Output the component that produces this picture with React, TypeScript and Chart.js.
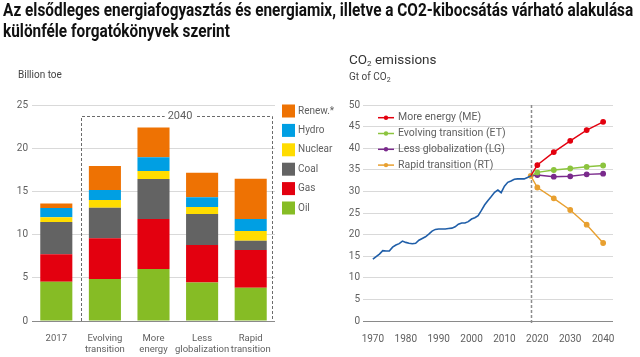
import React, { useEffect, useRef, useLayoutEffect, useState } from 'react';
import { Chart, registerables } from 'chart.js';
Chart.register(...registerables);

const FONT = 'Roboto, "Liberation Sans", sans-serif';

// ---- Left chart: primary energy mix (billion toe)
const mixCategories = [['2017'], ['Evolving', 'transition'], ['More', 'energy'], ['Less', 'globalization'], ['Rapid', 'transition']];
const oil = [4.55, 4.86, 6.02, 4.47, 3.86];
const gas = [3.17, 4.71, 5.78, 4.33, 4.36];
const coal = [3.74, 3.53, 4.63, 3.58, 1.08];
const nuclear = [0.54, 0.9, 0.93, 0.8, 1.12];
const hydro = [1.08, 1.16, 1.58, 1.15, 1.38];
const renew = [0.52, 2.78, 3.46, 2.82, 4.67];
const mixTickStep = 5;
const mixMax = 25;
const boxTopValue = 23.7;
const boxLabel = '2040';

// ---- Right chart: CO2 emissions (Gt of CO2)
const histYears = [1970, 1971, 1972, 1973, 1974, 1975, 1976, 1977, 1978, 1979, 1980, 1981, 1982, 1983, 1984, 1985, 1986, 1987, 1988, 1989, 1990, 1991, 1992, 1993, 1994, 1995, 1996, 1997, 1998, 1999, 2000, 2001, 2002, 2003, 2004, 2005, 2006, 2007, 2008, 2009, 2010, 2011, 2012, 2013, 2014, 2015, 2016, 2017, 2018];
const histCO2 = [14.3, 14.9, 15.5, 16.3, 16.2, 16.2, 17.1, 17.6, 17.9, 18.5, 18.2, 18.0, 17.9, 18.0, 18.7, 19.1, 19.5, 20.1, 20.8, 21.2, 21.3, 21.3, 21.3, 21.4, 21.5, 21.8, 22.4, 22.7, 22.7, 23.0, 23.6, 23.9, 24.4, 25.6, 26.9, 27.9, 28.8, 29.8, 30.3, 29.7, 31.2, 32.1, 32.4, 32.8, 32.9, 32.9, 32.9, 33.2, 33.6];
const projYears = [2018, 2020, 2025, 2030, 2035, 2040];
const moreEnergy = [33.6, 36.1, 39.1, 41.7, 44.2, 46.1];
const evolving = [33.6, 34.4, 34.95, 35.3, 35.7, 36.0];
const lessGlob = [33.6, 33.8, 33.4, 33.5, 33.95, 34.1];
const rapid = [33.6, 30.9, 28.4, 25.7, 22.3, 18.05];
const co2XTicks = [1970, 1980, 1990, 2000, 2010, 2020, 2030, 2040];
const co2Divider = 2018;

const tickColor = '#5f5f5f';
const gridColor = (ctx: any) => (ctx.tick && ctx.tick.value === 0 ? '#8a8a8a' : '#d9d9d9');

const mixBoxPlugin = {
  id: 'mixBox',
  afterDraw(chart: any) {
    const { ctx, scales } = chart;
    const x = scales.x, y = scales.y;
    const step = x.getPixelForValue(1) - x.getPixelForValue(0);
    const left = Math.round(x.getPixelForValue(0) + step / 2) + 0.5;
    const right = Math.round(x.getPixelForValue(4) + step * 0.43) + 0.5;
    const top = Math.round(y.getPixelForValue(boxTopValue)) + 0.5;
    const bottom = y.getPixelForValue(0);
    ctx.save();
    ctx.strokeStyle = '#6b6b6b';
    ctx.lineWidth = 1;
    ctx.setLineDash([3, 2]);
    ctx.beginPath();
    ctx.moveTo(left, bottom);
    ctx.lineTo(left, top);
    ctx.lineTo(right, top);
    ctx.lineTo(right, bottom);
    ctx.stroke();
    ctx.setLineDash([]);
    ctx.font = `11px ${FONT}`;
    const w = ctx.measureText(boxLabel).width;
    const cx = (left + right) / 2 + 3;
    ctx.fillStyle = '#fff';
    ctx.fillRect(cx - w / 2 - 3, top - 6, w + 6, 12);
    ctx.fillStyle = tickColor;
    ctx.textAlign = 'center';
    ctx.textBaseline = 'middle';
    ctx.fillText(boxLabel, cx, top);
    ctx.restore();
  },
};

const mixLegendPlugin = {
  id: 'mixLegend',
  afterDraw(chart: any) {
    const { ctx, chartArea } = chart;
    const ds = [...chart.data.datasets].reverse();
    ctx.save();
    ctx.font = `10px ${FONT}`;
    ctx.textBaseline = 'middle';
    ctx.textAlign = 'left';
    ds.forEach((d: any, i: number) => {
      const cy = chartArea.top + 6 + i * 19.4;
      const sx = chartArea.right + 7;
      ctx.fillStyle = d.backgroundColor;
      ctx.fillRect(sx, cy - 6.5, 13, 13);
      ctx.fillStyle = tickColor;
      ctx.fillText(d.label, sx + 16, cy);
    });
    ctx.restore();
  },
};

const dividerPlugin = {
  id: 'divider',
  beforeDatasetsDraw(chart: any) {
    const { ctx, scales } = chart;
    const x = Math.round(scales.x.getPixelForValue(co2Divider)) + 0.5;
    ctx.save();
    ctx.strokeStyle = '#8c8c8c';
    ctx.lineWidth = 1.5;
    ctx.setLineDash([3, 2]);
    ctx.beginPath();
    ctx.moveTo(x, scales.y.getPixelForValue(50));
    ctx.lineTo(x, scales.y.getPixelForValue(0) + 2);
    ctx.stroke();
    ctx.restore();
  },
};

const co2LegendPlugin = {
  id: 'co2Legend',
  afterDraw(chart: any) {
    const { ctx, chartArea } = chart;
    const ds = chart.data.datasets.filter((d: any) => d.showInLegend);
    ctx.save();
    ctx.font = `10.5px ${FONT}`;
    ctx.textBaseline = 'middle';
    ctx.textAlign = 'left';
    ds.forEach((d: any, i: number) => {
      const cy = chartArea.top + 12.7 + i * 15.8;
      const x0 = chartArea.left + 15;
      ctx.strokeStyle = d.borderColor;
      ctx.lineWidth = 1.5;
      ctx.beginPath();
      ctx.moveTo(x0, cy);
      ctx.lineTo(x0 + 16, cy);
      ctx.stroke();
      ctx.fillStyle = d.borderColor;
      ctx.beginPath();
      ctx.arc(x0 + 8, cy, 2.2, 0, Math.PI * 2);
      ctx.fill();
      ctx.fillStyle = tickColor;
      ctx.fillText(d.label, x0 + 20, cy);
    });
    ctx.restore();
  },
};

function MixChart() {
  const ref = useRef<HTMLCanvasElement>(null);
  useEffect(() => {
    const chart = new Chart(ref.current!, {
      type: 'bar',
      data: {
        labels: mixCategories as any,
        datasets: [
          { label: 'Oil', data: oil, backgroundColor: '#86bc25' },
          { label: 'Gas', data: gas, backgroundColor: '#e3000f' },
          { label: 'Coal', data: coal, backgroundColor: '#636363' },
          { label: 'Nuclear', data: nuclear, backgroundColor: '#ffdc00' },
          { label: 'Hydro', data: hydro, backgroundColor: '#009fe3' },
          { label: 'Renew.*', data: renew, backgroundColor: '#ee7203' },
        ],
      },
      options: {
        animation: false,
        responsive: false,
        maintainAspectRatio: false,
        events: [],
        layout: { padding: { left: 0, right: 65, top: 105, bottom: 0 } },
        datasets: { bar: { categoryPercentage: 1, barPercentage: 0.66 } },
        plugins: { legend: { display: false }, tooltip: { enabled: false } },
        scales: {
          x: {
            stacked: true,
            grid: { display: false },
            border: { display: false },
            ticks: { color: tickColor, font: { size: 9.5, family: FONT, lineHeight: 1.15 }, padding: 4, maxRotation: 0, autoSkip: false },
            afterFit: (s: any) => { s.height = 36; },
          },
          y: {
            stacked: true,
            min: 0,
            max: mixMax,
            ticks: { stepSize: mixTickStep, color: tickColor, font: { size: 10, family: FONT }, padding: 4 },
            grid: { drawTicks: false, color: gridColor, lineWidth: 1 },
            border: { display: false },
            afterFit: (s: any) => { s.width = 32; },
          },
        },
      } as any,
      plugins: [mixBoxPlugin, mixLegendPlugin],
    });
    return () => chart.destroy();
  }, []);
  return <canvas ref={ref} width={340} height={357} style={{ position: 'absolute', left: 0, top: 0, width: 340, height: 357 }} />;
}

function Co2Chart() {
  const ref = useRef<HTMLCanvasElement>(null);
  useEffect(() => {
    const proj = (vals: number[]) => projYears.map((x, i) => ({ x, y: vals[i] }));
    const projStyle = (c: string, first: number) => ({ borderColor: c, backgroundColor: c, pointBackgroundColor: c, pointBorderColor: c, pointRadius: projYears.map((_, i) => (i === 0 ? first : 2.2)), borderWidth: 1.4, showInLegend: true });
    const chart = new Chart(ref.current!, {
      type: 'line',
      data: {
        datasets: [
          { label: 'History', data: histYears.map((x, i) => ({ x, y: histCO2[i] })), borderColor: '#1f5ea8', borderWidth: 1.6, pointRadius: 0, tension: 0 },
          { label: 'More energy (ME)', data: proj(moreEnergy), ...projStyle('#e3000f', 0) },
          { label: 'Evolving transition (ET)', data: proj(evolving), ...projStyle('#8cc43f', 0) },
          { label: 'Less globalization (LG)', data: proj(lessGlob), ...projStyle('#7a2a8c', 0) },
          { label: 'Rapid transition (RT)', data: proj(rapid), ...projStyle('#e8a030', 2.2) },
        ] as any,
      },
      options: {
        animation: false,
        responsive: false,
        maintainAspectRatio: false,
        events: [],
        layout: { padding: { left: 0, right: 27, top: 105, bottom: 0 } },
        plugins: { legend: { display: false }, tooltip: { enabled: false } },
        scales: {
          x: {
            type: 'linear',
            min: 1967,
            max: 2043,
            afterBuildTicks: (s: any) => { s.ticks = co2XTicks.map((v) => ({ value: v })); },
            grid: { display: false },
            border: { display: false },
            ticks: { color: tickColor, font: { size: 10, family: FONT }, padding: 4, maxRotation: 0, autoSkip: false, callback: (v: any) => String(v) },
            afterFit: (s: any) => { s.height = 36; },
          },
          y: {
            min: 0,
            max: 50,
            ticks: { stepSize: 5, color: tickColor, font: { size: 10, family: FONT }, padding: 3 },
            grid: { drawTicks: false, color: gridColor, lineWidth: 1 },
            border: { display: false },
            afterFit: (s: any) => { s.width = 33; },
          },
        },
      } as any,
      plugins: [dividerPlugin, co2LegendPlugin],
    });
    return () => chart.destroy();
  }, []);
  return <canvas ref={ref} width={310} height={357} style={{ position: 'absolute', left: 330, top: 0, width: 310, height: 357 }} />;
}

function Title() {
  const ref = useRef<HTMLSpanElement>(null);
  const [scale, setScale] = useState(1);
  useLayoutEffect(() => {
    if (ref.current) {
      const w = ref.current.offsetWidth;
      if (w > 0) setScale(630 / w);
    }
  }, []);
  const lineStyle: React.CSSProperties = { display: 'inline-block', whiteSpace: 'nowrap' };
  return (
    <div style={{ position: 'absolute', left: 3, top: 0, fontFamily: '"Liberation Sans Narrow", Roboto, sans-serif', fontWeight: 700, fontSize: 18, lineHeight: '20.5px', color: '#111', transform: `scaleX(${scale})`, transformOrigin: 'left top' }}>
      <span ref={ref} style={lineStyle}>Az elsődleges energiafogyasztás és energiamix, illetve a CO2-kibocsátás várható alakulása</span>
      <br />
      <span style={lineStyle}>különféle forgatókönyvek szerint</span>
    </div>
  );
}

export default function App() {
  useEffect(() => {
    document.body.style.margin = '0';
  }, []);
  const small: React.CSSProperties = { position: 'absolute', fontFamily: FONT, color: '#444', whiteSpace: 'nowrap' };
  return (
    <div style={{ position: 'relative', width: 640, height: 357, background: '#fff', overflow: 'hidden' }}>
      <MixChart />
      <Co2Chart />
      <Title />
      <div style={{ ...small, left: 18, top: 69, fontSize: 10 }}>Billion toe</div>
      <div style={{ ...small, left: 349, top: 51, fontSize: 13.5, color: '#333' }}>
        CO<sub style={{ fontSize: 8, verticalAlign: '-2px' }}>2</sub> emissions
      </div>
      <div style={{ ...small, left: 349, top: 71, fontSize: 10 }}>
        Gt of CO<sub style={{ fontSize: 7, verticalAlign: '-2px' }}>2</sub>
      </div>
    </div>
  );
}
